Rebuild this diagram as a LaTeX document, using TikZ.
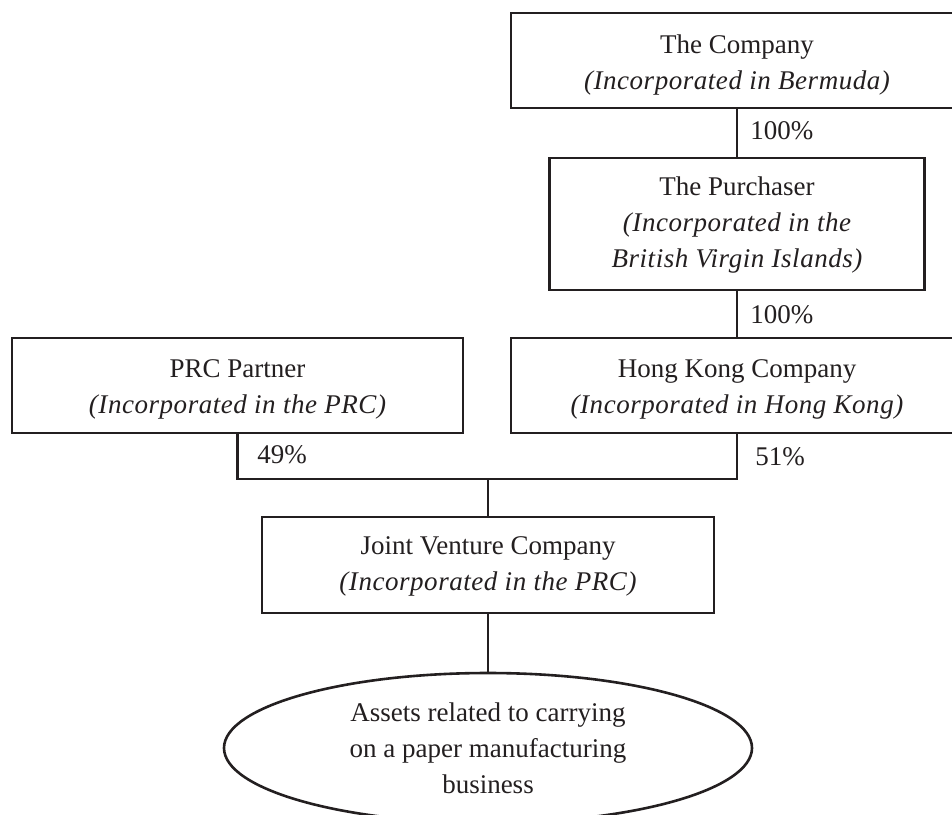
\documentclass[tikz,border=0pt]{standalone}
\usepackage{fontspec}
\setmainfont{Liberation Serif}
\newfontfamily\incfont[LetterSpace=2.0]{Liberation Serif}
\usetikzlibrary{shapes.geometric}
\definecolor{ink}{RGB}{35,31,32}
\tikzset{
  every node/.style={font=\fontsize{13.5}{18}\selectfont, text=ink},
  orgbox/.style={draw=ink, line width=1.3pt, inner sep=0pt, align=center, fill=white},
  assetell/.style={ellipse, draw=ink, line width=1.3pt, inner sep=0pt, align=center,
     minimum width=264pt, minimum height=75pt},
  link/.style={draw=ink, line width=1.3pt},
  pct/.style={anchor=west, inner sep=0pt}
}
\newcommand{\inc}[1]{{\incfont\itshape #1}}
\newcommand{\liftline}[1]{\rule{0pt}{#1}}
\begin{document}
\begin{tikzpicture}[x=0.5pt, y=-0.5pt]
\useasboundingbox (0,0) rectangle (952,814);
\node[orgbox, minimum width=226pt, minimum height=47.5pt] (company) at (737,60.5)
  {\liftline{15.9pt}\strut The Company\\ \strut\inc{(Incorporated in Bermuda)}};
\node[orgbox, minimum width=187.5pt, minimum height=66pt] (purch) at (737,224)
  {\strut The Purchaser\\ \strut\inc{(Incorporated in the}\\ \strut\inc{British Virgin Islands)}};
\node[orgbox, minimum width=225.5pt, minimum height=47.5pt] (prc) at (237.5,385.5)
  {\liftline{14.9pt}\strut PRC Partner\\ \strut\inc{(Incorporated in the PRC)}};
\node[orgbox, minimum width=226pt, minimum height=47.5pt] (hk) at (737,385.5)
  {\liftline{14.9pt}\strut Hong Kong Company\\ \strut\inc{(Incorporated in Hong Kong)}};
\node[orgbox, minimum width=226pt, minimum height=48pt] (jv) at (488,565)
  {\strut Joint Venture Company\\ \strut\inc{(Incorporated in the PRC)}};
\node[assetell] (assets) at (488,748)
  {Assets related to carrying\\ on a paper manufacturing\\ business};
\coordinate (bar) at (488,479);
\path[link] (company.south) -- (purch.north);
\path[link] (purch.south) -- (hk.north);
\path[link] (prc.south) |- (bar) -| (hk.south);
\path[link] (bar) -- (jv.north);
\path[link] (jv.south) -- (assets.north);
\node[pct] (p1) at (750,131) {100\%};
\node[pct] (p2) at (750,315) {100\%};
\node[pct] (p3) at (257,455) {49\%};
\node[pct] (p4) at (755,457) {51\%};
\end{tikzpicture}
\end{document}
